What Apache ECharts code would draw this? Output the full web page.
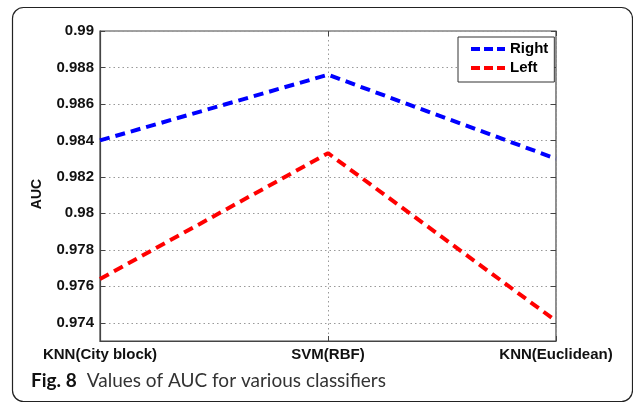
<!DOCTYPE html>
<html>
<head>
<meta charset="utf-8">
<script src="https://cdn.jsdelivr.net/npm/echarts@6/dist/echarts.min.js"></script>
<style>
html,body{margin:0;padding:0;background:#fff;}
#chart{width:633px;height:404px;}
</style>
</head>
<body>
<div id="chart"></div>
<script>
const categories = ['KNN(City block)', 'SVM(RBF)', 'KNN(Euclidean)'];
const rightValues = [0.9840, 0.9876, 0.9830];
const leftValues = [0.9764, 0.9833, 0.9741];
const yTicks = [0.974, 0.976, 0.978, 0.98, 0.982, 0.984, 0.986, 0.988, 0.99];
const yMin = 0.973, yMax = 0.99;

const chart = echarts.init(document.getElementById('chart'));
const labelFont = {fontFamily: 'Liberation Sans, Arial, sans-serif', fontWeight: 'bold', fontSize: 15, color: '#111'};
const fmt = v => String(parseFloat(Number(v).toFixed(3)));

chart.setOption({
  animation: false,
  backgroundColor: '#fff',
  title: {
    left: 26, top: 366,
    text: '{b|Fig. 8}  {n|Values of AUC for various classifiers}',
    textStyle: {
      rich: {
        b: {fontFamily: 'Lato, Open Sans, sans-serif', fontWeight: 'bold', fontSize: 19, color: '#111'},
        n: {fontFamily: 'Lato, Open Sans, sans-serif', fontWeight: 'normal', fontSize: 19, color: '#333'}
      }
    }
  },
  graphic: [{
    type: 'rect',
    shape: {x: 12.5, y: 7.5, width: 620, height: 394, r: 11},
    style: {fill: 'none', stroke: '#222', lineWidth: 1.2},
    silent: true, z: 0
  }],
  grid: {left: 100, right: 77, top: 31, bottom: 63, show: true, borderColor: '#444', borderWidth: 1.2, backgroundColor: '#fff'},
  legend: {
    orient: 'vertical',
    left: 458, top: 37,
    padding: [4, 6, 6, 11],
    itemGap: 3,
    itemWidth: 34, itemHeight: 16,
    align: 'left',
    backgroundColor: '#fff',
    borderColor: '#333', borderWidth: 1,
    textStyle: Object.assign({}, labelFont, {color: '#000', lineHeight: 16}),
    itemStyle: {opacity: 0},
    lineStyle: {type: [9, 4], width: 4},
    data: ['Right', 'Left']
  },
  xAxis: [{
    type: 'category', data: categories, boundaryGap: false,
    axisLine: {show: true, lineStyle: {color: '#444', width: 1.2}},
    axisTick: {show: true, inside: true, length: 5, lineStyle: {color: '#444'}},
    axisLabel: Object.assign({margin: 6}, labelFont),
    splitLine: {show: true, lineStyle: {color: '#999', type: [1.5, 3], width: 1}}
  }, {
    type: 'category', data: categories, boundaryGap: false, position: 'top',
    axisLine: {show: false},
    axisTick: {show: true, inside: true, length: 5, lineStyle: {color: '#444'}},
    axisLabel: {show: false}, splitLine: {show: false}
  }],
  yAxis: [{
    type: 'value', min: yMin, max: yMax, interval: 0.001,
    name: 'AUC', nameLocation: 'middle', nameGap: 56,
    nameTextStyle: Object.assign({}, labelFont, {fontSize: 14, padding: [0, 0, 0, -16]}),
    axisLine: {show: true, lineStyle: {color: '#444', width: 1.2}},
    axisTick: {show: true, inside: true, length: 5, lineStyle: {color: '#444'}, customValues: yTicks},
    axisLabel: Object.assign({margin: 6, formatter: fmt, customValues: yTicks}, labelFont),
    splitLine: {show: true, lineStyle: {color: '#999', type: [1.5, 3], width: 1}}
  }, {
    type: 'value', min: yMin, max: yMax, interval: 0.001, position: 'right',
    axisLine: {show: false},
    axisTick: {show: true, inside: true, length: 5, lineStyle: {color: '#444'}, customValues: yTicks},
    axisLabel: {show: false, customValues: yTicks}, splitLine: {show: false}
  }],
  series: [{
    name: 'Right', type: 'line', data: rightValues, symbol: 'none',
    lineStyle: {color: '#0000ff', width: 4, type: [10, 6]}, itemStyle: {color: '#0000ff'}, z: 3
  }, {
    name: 'Left', type: 'line', data: leftValues, symbol: 'none',
    lineStyle: {color: '#ff0000', width: 4, type: [10, 6]}, itemStyle: {color: '#ff0000'}, z: 3
  }]
});
</script>
</body>
</html>
